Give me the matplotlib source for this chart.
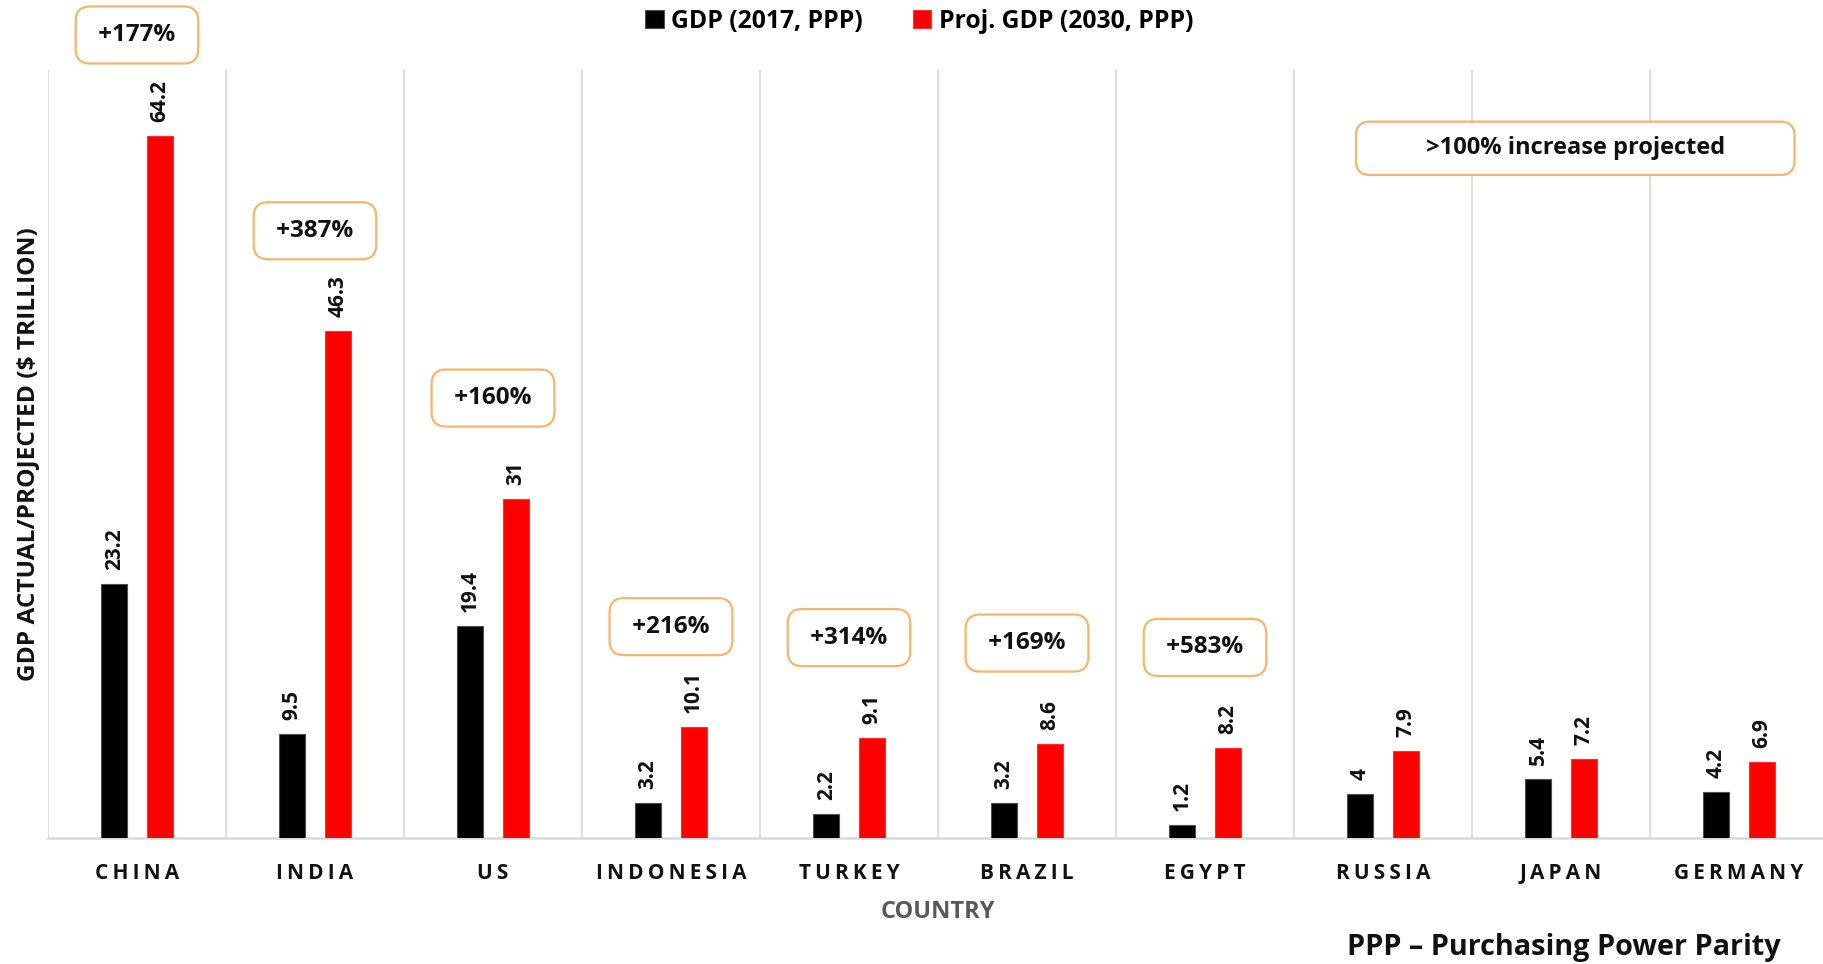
import numpy as np
import matplotlib.pyplot as plt

plt.rcParams['font.family'] = ['Open Sans', 'DejaVu Sans']

countries = ['CHINA', 'INDIA', 'US', 'INDONESIA', 'TURKEY', 'BRAZIL',
             'EGYPT', 'RUSSIA', 'JAPAN', 'GERMANY']
gdp_2017 = [23.2, 9.5, 19.4, 3.2, 2.2, 3.2, 1.2, 4, 5.4, 4.2]
gdp_2030 = [64.2, 46.3, 31, 10.1, 9.1, 8.6, 8.2, 7.9, 7.2, 6.9]
growth = ['+177%', '+387%', '+160%', '+216%', '+314%', '+169%', '+583%']

orange = '#F9B46C'
grid_col = '#d9d9d9'

fig = plt.figure(figsize=(18.24, 9.64), dpi=100)
ax = fig.add_axes([0.0263, 0.131, 0.9759, 0.7964])

x = np.arange(len(countries))
w = 0.146
off = 0.128
b1 = ax.bar(x - off, gdp_2017, w, color='black', edgecolor='#505050', lw=0.8,
            label='GDP (2017, PPP)', zorder=3)
b2 = ax.bar(x + off, gdp_2030, w, color='#ff0000', edgecolor='#ff3030', lw=0.8,
            label='Proj. GDP (2030, PPP)', zorder=3)

# value labels, rotated
for bars, vals in [(b1, gdp_2017), (b2, gdp_2030)]:
    for r, v in zip(bars, vals):
        ax.annotate(f'{v:g}', (r.get_x() + r.get_width() / 2, r.get_height()),
                    xytext=(0, 10), textcoords='offset points', rotation=90,
                    ha='center', va='bottom', fontsize=15, fontweight='bold',
                    color='#111111')

# growth boxes
for i, g in enumerate(growth):
    ax.text(i, gdp_2030[i] + 9.2, ' ' + g + ' ', ha='center', va='center',
            fontsize=17.5, fontweight='bold', color='#111111', clip_on=False, zorder=5,
            bbox=dict(boxstyle='round,pad=0.68,rounding_size=0.6', fc='white',
                      ec=orange, lw=1.6))

ax.text(0.858, 0.898, ' ' * 9 + '>100% increase projected' + ' ' * 9,
        transform=ax.transAxes, ha='center', va='center', fontsize=17,
        fontweight='bold', color='#111111',
        bbox=dict(boxstyle='round,pad=0.62,rounding_size=0.6', fc='white',
                  ec=orange, lw=1.6))

ax.set_xlim(-0.5, len(countries) - 0.5)
ax.set_ylim(0, 70.2)
ax.set_xticks(x)
ax.set_xticklabels(['\u2009'.join(c) for c in countries], fontsize=15,
                   fontweight='bold', color='#111111')
ax.tick_params(axis='x', length=0, pad=18)
ax.set_yticks([])

for b in np.arange(-0.5, len(countries), 1.0):
    ax.axvline(b, color=grid_col, lw=1.3, zorder=1)
for s in ['top', 'right', 'left']:
    ax.spines[s].set_visible(False)
ax.spines['bottom'].set_color(grid_col)
ax.spines['bottom'].set_linewidth(1.8)

ax.set_xlabel('COUNTRY', fontsize=17, fontweight='bold', color='#595959', labelpad=12)
ax.set_ylabel('GDP ACTUAL/PROJECTED ($ TRILLION)', fontsize=17.6,
              fontweight='bold', color='#111111')
ax.yaxis.set_label_coords(-0.0045, 0.5)

fig.legend(handles=[b1, b2], loc='center', bbox_to_anchor=(0.504, 0.978), ncol=2,
           frameon=False, prop={'weight': 'bold', 'size': 17.8},
           handlelength=0.75, handleheight=0.75, handletextpad=0.3,
           columnspacing=2.0)

fig.text(0.976, 0.0166, 'PPP \u2013 Purchasing Power Parity', ha='right', va='center',
         fontsize=20.8, fontweight='bold', color='#111111')

fig.savefig('out.png', dpi=100)
